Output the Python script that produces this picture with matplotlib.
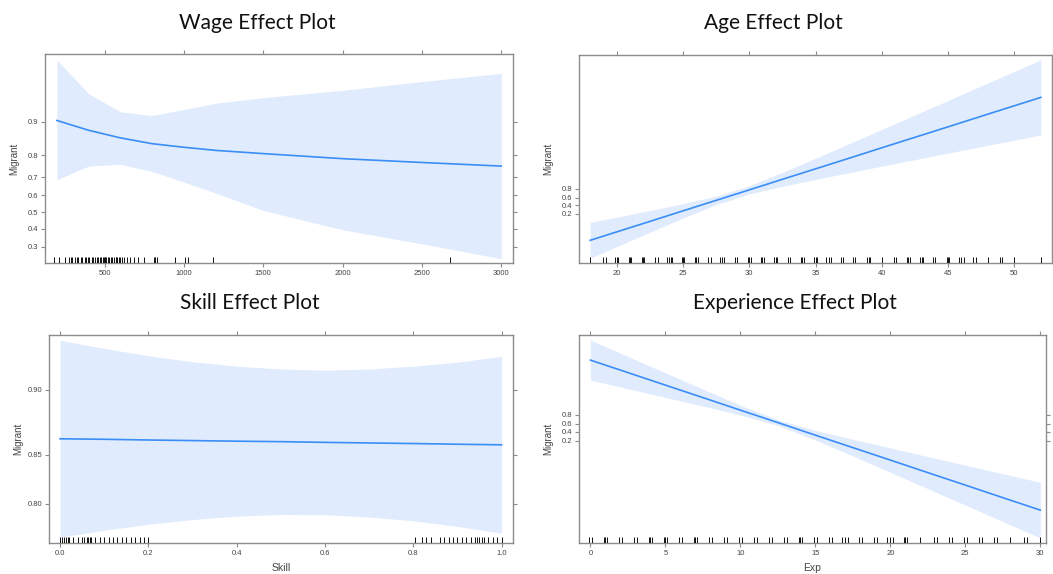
import numpy as np
import matplotlib
matplotlib.use("Agg")
import matplotlib.pyplot as plt
from matplotlib.transforms import blended_transform_factory

W, H = 1053, 574

# ---------------- data ----------------
# Wage effect (probability scale)
wage_x = [200, 400, 600, 800, 1000, 1200, 1500, 2000, 2500, 3000]
wage_fit = [0.903, 0.880, 0.859, 0.841, 0.829, 0.818, 0.806, 0.786, 0.770, 0.754]
wage_upper = [0.976, 0.947, 0.920, 0.913, 0.924, 0.934, 0.942, 0.951, 0.960, 0.967]
wage_lower = [0.688, 0.754, 0.762, 0.729, 0.675, 0.614, 0.510, 0.394, 0.316, 0.243]
wage_rug = [180, 213, 251, 279, 287, 296, 315, 325, 335, 350, 360, 375, 385, 395, 405,
            420, 430, 440, 450, 460, 470, 480, 490, 495, 500, 505, 510, 520, 530, 540,
            550, 560, 570, 575, 580, 590, 600, 610, 620, 642, 663, 688, 709, 747, 810,
            821, 832, 947, 1006, 1028, 1186, 2677]
wage_xticks = [500, 1000, 1500, 2000, 2500, 3000]
wage_xtick_labels = ["500", "1000", "1500", "2000", "2500", "3000"]
wage_yticks = [0.3, 0.4, 0.5, 0.6, 0.7, 0.8, 0.9]
wage_ytick_labels = ["0.3", "0.4", "0.5", "0.6", "0.7", "0.8", "0.9"]

# Age effect (linear predictor / logit scale)
age_x = [18, 20, 22.5, 25, 27.5, 30, 32.5, 35, 37.5, 40, 42.5, 45, 47.5, 50, 52]
age_fit = [-4.31, -3.38, -2.22, -1.05, 0.11, 1.27, 2.44, 3.60, 4.76, 5.93, 7.09, 8.25,
           9.42, 10.58, 11.51]
age_upper = [-2.33, -1.75, -1.02, -0.25, 0.58, 1.72, 3.21, 4.77, 6.36, 7.96, 9.56, 11.16,
             12.78, 14.38, 15.67]
age_lower = [-6.29, -5.01, -3.42, -1.85, -0.36, 0.82, 1.67, 2.43, 3.16, 3.90, 4.62, 5.34,
             6.06, 6.78, 7.35]
age_rug = [18.0, 19.0, 19.2, 19.9, 20.0, 20.1, 20.9, 21.0, 21.1, 21.9, 22.0, 22.1, 22.9,
           23.1, 23.8, 23.95, 24.1, 24.2, 24.9, 25.0, 25.1, 25.9, 26.0, 26.1, 26.9, 27.1,
           27.8, 27.95, 28.1, 28.9, 29.1, 29.9, 30.0, 30.1, 30.9, 31.0, 31.1, 31.9, 32.0,
           32.1, 32.9, 33.1, 33.9, 34.0, 34.1, 34.9, 35.0, 35.1, 35.8, 36.0, 36.2, 36.9,
           37.1, 37.8, 38.0, 38.9, 39.0, 39.1, 40.0, 40.9, 41.1, 41.9, 42.0, 42.1, 42.9,
           43.0, 43.1, 43.9, 44.05, 44.9, 45.0, 45.1, 45.8, 46.0, 46.2, 46.9, 47.1, 48.0,
           48.9, 49.1, 50.0, 52.0]
age_xticks = [20, 25, 30, 35, 40, 45, 50]
age_xtick_labels = ["20", "25", "30", "35", "40", "45", "50"]
age_yticks = [0.2, 0.4, 0.6, 0.8]
age_ytick_labels = ["0.2", "0.4", "0.6", "0.8"]

# Skill effect (probability scale)
skill_x = [0.0, 0.1, 0.2, 0.3, 0.4, 0.5, 0.6, 0.7, 0.8, 0.9, 1.0]
skill_fit = [0.8640, 0.8636, 0.8630, 0.8625, 0.8620, 0.8616, 0.8610, 0.8605, 0.8600,
             0.8594, 0.8589]
skill_upper = [0.9275, 0.9235, 0.9197, 0.9165, 0.9141, 0.9125, 0.9118, 0.9125, 0.9141,
               0.9163, 0.9194]
skill_lower = [0.7595, 0.7685, 0.7759, 0.7817, 0.7858, 0.7878, 0.7875, 0.7848, 0.7802,
               0.7733, 0.7646]
skill_rug = [0.0, 0.005, 0.01, 0.013, 0.017, 0.02, 0.03, 0.04, 0.05, 0.055, 0.06, 0.063,
             0.067, 0.07, 0.08, 0.09, 0.1, 0.11, 0.12, 0.13, 0.14, 0.15, 0.16, 0.17, 0.18,
             0.19, 0.2, 0.805, 0.82, 0.83, 0.84, 0.86, 0.87, 0.88, 0.89, 0.9, 0.91, 0.92,
             0.93, 0.94, 0.945, 0.95, 0.955, 0.96, 0.97, 0.98, 0.99, 1.0]
skill_xticks = [0.0, 0.2, 0.4, 0.6, 0.8, 1.0]
skill_xtick_labels = ["0.0", "0.2", "0.4", "0.6", "0.8", "1.0"]
skill_yticks = [0.80, 0.85, 0.90]
skill_ytick_labels = ["0.80", "0.85", "0.90"]

# Experience effect (linear predictor / logit scale)
exp_x = [0, 2.5, 5, 7.5, 10, 12.5, 15, 17.5, 20, 22.5, 25, 27.5, 30]
exp_fit = [7.22, 5.89, 4.55, 3.22, 1.88, 0.55, -0.79, -2.12, -3.45, -4.79, -6.12, -7.46,
           -8.79]
exp_upper = [9.36, 7.61, 5.86, 4.12, 2.40, 0.85, -0.28, -1.23, -2.15, -3.08, -3.99,
             -4.91, -5.82]
exp_lower = [5.08, 4.17, 3.24, 2.32, 1.36, 0.25, -1.30, -3.01, -4.75, -6.50, -8.25,
             -10.01, -11.76]
exp_rug = [-0.1, 0.1, 0.9, 1.0, 1.1, 1.9, 2.1, 2.9, 3.1, 3.9, 4.0, 4.1, 4.9, 5.0, 5.1,
           5.9, 6.1, 6.9, 7.0, 7.1, 7.9, 8.1, 8.9, 9.1, 9.9, 10.1, 10.9, 11.1, 11.9, 12.1,
           12.9, 13.1, 13.9, 14.0, 14.1, 14.9, 15.1, 15.9, 16.1, 16.8, 17.0, 17.2, 17.9,
           18.1, 18.9, 19.1, 19.8, 20.0, 20.2, 20.9, 21.0, 21.1, 22.0, 22.9, 23.1, 23.9,
           24.1, 24.9, 25.1, 25.9, 26.1, 26.9, 27.1, 28.0, 28.9, 29.1, 30.0]
exp_xticks = [0, 5, 10, 15, 20, 25, 30]
exp_xtick_labels = ["0", "5", "10", "15", "20", "25", "30"]
exp_yticks = [0.2, 0.4, 0.6, 0.8]
exp_ytick_labels = ["0.2", "0.4", "0.6", "0.8"]


def logit(p):
    p = np.asarray(p, dtype=float)
    return np.log(p / (1 - p))


# ---------------- style ----------------
LINE = "#3a8ef6"
BAND = "#e0ebfd"
EDGE = "#8c8c8c"
TXT = "#444444"
TICKFONT = "Liberation Sans"

fig = plt.figure(figsize=(W / 100, H / 100), dpi=100)


def make_ax(l, t, r, b):
    return fig.add_axes([l / W, 1 - b / H, (r - l) / W, (b - t) / H])


def panel(rect, x, fit, lo, hi, rug, xticks, xlabels, yticks, ylabels, xlim, ylim,
          xlabel=None):
    l, t, r, b = rect
    ax = make_ax(*rect)
    ax.fill_between(x, lo, hi, color=BAND, lw=0, zorder=1)
    ax.plot(x, fit, color=LINE, lw=1.2, zorder=3)
    tr = blended_transform_factory(ax.transData, ax.transAxes)
    ax.vlines(rug, 0, 0.03, transform=tr, color="#111111", lw=0.7, zorder=4)
    ax.set_xlim(*xlim)
    ax.set_ylim(*ylim)
    ax.set_xticks(xticks)
    ax.set_xticklabels(xlabels)
    ax.set_yticks(yticks)
    ax.set_yticklabels(ylabels)
    for s in ax.spines.values():
        s.set_color(EDGE)
        s.set_linewidth(1.0)
    ax.tick_params(axis="both", which="both", direction="out", length=3,
                   width=0.8, color=EDGE, labelsize=5.5, labelcolor=TXT, pad=2,
                   top=True, right=True, labeltop=False, labelright=False)
    for lab in ax.get_xticklabels() + ax.get_yticklabels():
        lab.set_fontfamily(TICKFONT)
    ax.set_ylabel("Migrant", fontsize=7, color=TXT, family=TICKFONT)
    ax.yaxis.set_label_coords(-26 / (r - l), 0.5)
    if xlabel:
        ax.set_xlabel(xlabel, fontsize=7.5, color=TXT, family=TICKFONT, va="top")
        ax.xaxis.set_label_coords(0.5, -20 / (b - t))
    ax.set_facecolor("white")
    return ax


# Wage
panel((45, 54, 513, 263), wage_x, logit(wage_fit), logit(wage_lower), logit(wage_upper),
      wage_rug, wage_xticks, wage_xtick_labels, logit(wage_yticks), wage_ytick_labels,
      (125, 3074), (-1.24, 3.85))

# Age
panel((579, 55, 1052, 263), age_x, age_fit, age_lower, age_upper, age_rug, age_xticks,
      age_xtick_labels, logit(age_yticks), age_ytick_labels, (17.16, 52.84),
      (-6.82, 16.2))

# Skill
panel((49, 335, 513, 543), skill_x, logit(skill_fit), logit(skill_lower),
      logit(skill_upper), skill_rug, skill_xticks, skill_xtick_labels,
      logit(skill_yticks), skill_ytick_labels, (-0.025, 1.026), (1.109, 2.586),
      xlabel="Skill")

# Experience
panel((579, 335, 1046, 543), exp_x, exp_fit, exp_lower, exp_upper, exp_rug, exp_xticks,
      exp_xtick_labels, logit(exp_yticks), exp_ytick_labels, (-0.76, 30.38),
      (-12.3, 9.9), xlabel="Exp")

# Titles
TFONT = ["Lato", "DejaVu Sans"]
titles = [("Wage Effect Plot", 257, 29), ("Age Effect Plot", 773, 29),
          ("Skill Effect Plot", 250, 309), ("Experience Effect Plot", 795, 309)]
for txt, cx, by in titles:
    fig.text(cx / W, 1 - by / H, txt, ha="center", va="baseline", fontsize=15,
             family=TFONT, color="#111111")

fig.savefig("out.png", dpi=100, facecolor="white")
